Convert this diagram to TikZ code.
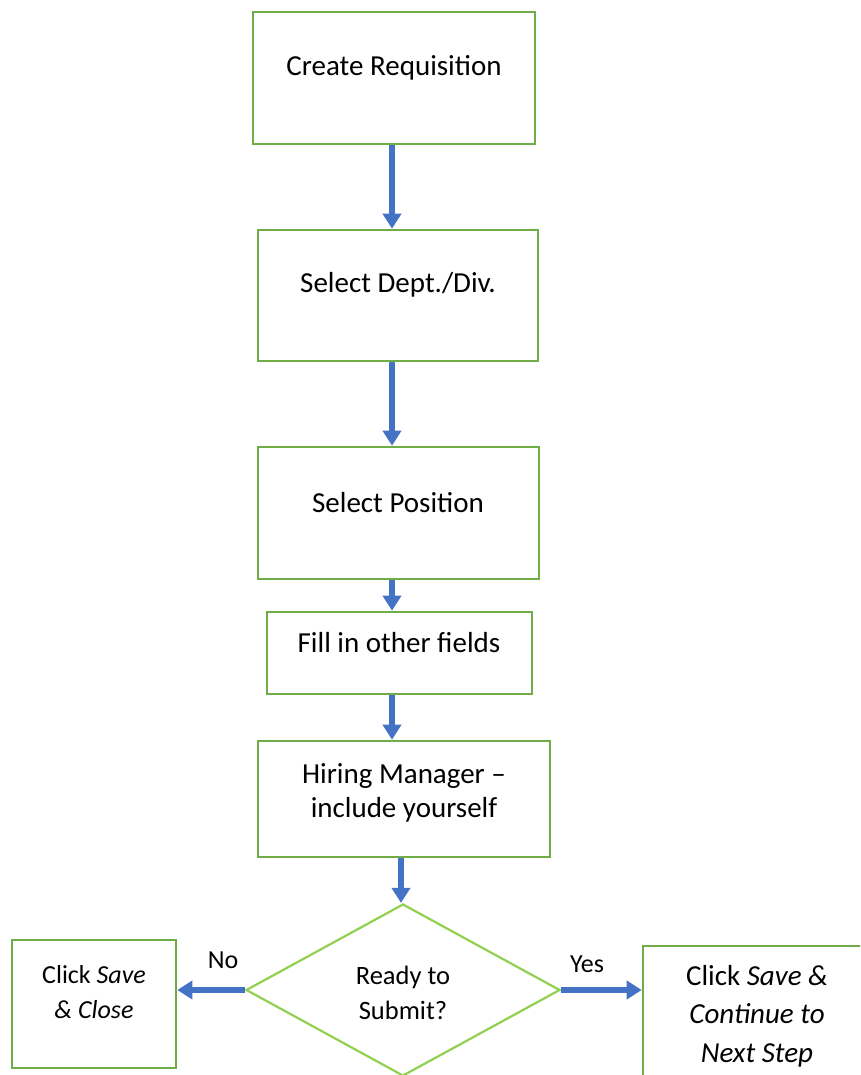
\documentclass[tikz,border=0pt]{standalone}
\usepackage{fontspec}
\setmainfont{Carlito}
\usetikzlibrary{arrows.meta,shapes.geometric}
\definecolor{boxgreen}{HTML}{70AD47}
\definecolor{diagreen}{HTML}{92D050}
\definecolor{arrblue}{HTML}{4472C4}
\begin{document}
\begin{tikzpicture}[x=1pt,y=-1pt,
  box/.style={draw=boxgreen,line width=2.6pt,fill=white,inner sep=0pt},
  lbl/.style={inner sep=0pt,align=center,font=\fontsize{29}{34}\selectfont},
  flow/.style={draw=arrblue,line width=6pt,-{Triangle[width=18pt,length=15pt]}}]
\useasboundingbox (0,0) rectangle (860,1075);
\clip (0,0) rectangle (860,1075);
% boxes
\node[box,minimum width=282pt,minimum height=132pt] (b1) at (394,78) {};
\node[box,minimum width=280pt,minimum height=131pt] (b2) at (398,295.5) {};
\node[box,minimum width=281pt,minimum height=132pt] (b3) at (398.5,513) {};
\node[box,minimum width=265pt,minimum height=82pt] (b4) at (399.5,653) {};
\node[box,minimum width=292pt,minimum height=116pt] (b5) at (404,799) {};
\node[draw=diagreen,line width=2.2pt,shape=diamond,minimum width=314pt,minimum height=172pt,inner sep=0pt] (d) at (403,990) {};
\node[box,minimum width=164pt,minimum height=128pt] (bl) at (94,1004) {};
\node[box,minimum width=240pt,minimum height=150pt] (br) at (763,1021) {};
% texts
\node[lbl] (t1) at (394,68) {Create Requisition};
\node[lbl] (t2) at (398,285) {Select Dept./Div.};
\node[lbl] (t3) at (398,503) {Select Position};
\node[lbl] (t4) at (399,643) {Fill in other fields};
\node[lbl] (t5) at (404,793) {Hiring Manager –\\include yourself};
\node[lbl,font=\fontsize{26.5}{35}\selectfont] (td) at (403,993) {Ready to\\Submit?};
\node[lbl,font=\fontsize{26}{35}\selectfont] (tl) at (94,992) {Click \textit{Save}\\\textit{\& Close}};
\node[lbl,font=\fontsize{29}{38.5}\selectfont] (tr) at (757,1016) {Click \textit{Save \&}\\\textit{Continue to}\\\textit{Next Step}};
\node[inner sep=0pt,font=\fontsize{26}{30}\selectfont] (no) at (223,960) {No};
\node[inner sep=0pt,font=\fontsize{26}{30}\selectfont] (yes) at (587,964) {Yes};
% arrows
\draw[flow] (b1.south -| 392,0) -- (b2.north -| 392,0);
\draw[flow] (b2.south -| 392,0) -- (b3.north -| 392,0);
\draw[flow] (b3.south -| 392,0) -- (b4.north -| 392,0);
\draw[flow] (b4.south -| 392,0) -- (b5.north -| 392,0);
\draw[flow] (b5.south -| 401,0) -- (d.north -| 401,0);
\draw[flow] (d.west) -- (bl.east |- d.west);
\draw[flow] (d.east) -- (br.west |- d.east);
\end{tikzpicture}
\end{document}
